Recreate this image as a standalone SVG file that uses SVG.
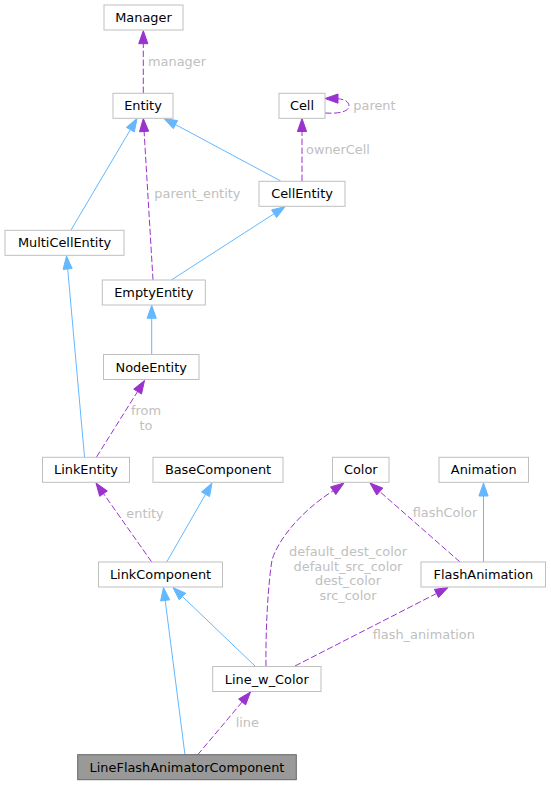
<svg xmlns="http://www.w3.org/2000/svg" width="551" height="785" viewBox="0 0 551 785">
<style>
.n rect{fill:#ffffff;stroke:#bfbfbf;stroke-width:1}
.n text{font-family:"DejaVu Sans",sans-serif;font-size:12.9px;fill:#000000;text-anchor:middle}
#LineFlashAnimatorComponent rect{fill:#999999;stroke:#666666}
.inh{stroke:#63b8ff;fill:none;stroke-width:1}
.inhA{fill:#63b8ff;stroke:#63b8ff}
.use{stroke:#9a32cd;fill:none;stroke-width:1;stroke-dasharray:6.4,2.6}
.useA{fill:#9a32cd;stroke:#9a32cd}
.lbl{font-family:"DejaVu Sans",sans-serif;font-size:12.9px;fill:#c0c0c0}
.mid{text-anchor:middle}
</style>
<rect width="551" height="785" fill="#ffffff"/>
<g id="connectors">
<path class="use" d="M143.3,93 L143.3,43.7"/>
<polygon class="useA" points="143.3,30.7 138.7,43.7 147.9,43.7"/>
<text class="lbl" x="148" y="65.5">manager</text>
<path class="inh" d="M71,230 L130.4,129.7"/>
<polygon class="inhA" points="137,118.5 134.3,132 126.4,127.3"/>
<path class="use" d="M153,280 L144.1,131.5"/>
<polygon class="useA" points="143.3,118.5 148.7,131.2 139.5,131.8"/>
<text class="lbl" x="154.3" y="197.5">parent_entity</text>
<path class="inh" d="M280.7,181 L175.5,124.6"/>
<polygon class="inhA" points="164,118.5 177.6,120.6 173.3,128.7"/>
<path class="use" d="M302,181 L302,131.5"/>
<polygon class="useA" points="302,118.5 297.4,131.5 306.6,131.5"/>
<text class="lbl" x="306" y="153.5">ownerCell</text>
<path class="use" d="M325,113 C337,114 349,112 349,106 C349,101 343,99 338,98.8"/>
<polygon class="useA" points="325,98.5 338,94 338,103.2"/>
<text class="lbl" x="353.3" y="109.5">parent</text>
<path class="inh" d="M171.3,280 L274.1,213.7"/>
<polygon class="inhA" points="285,206.7 276.6,217.6 271.6,209.9"/>
<path class="inh" d="M151.7,354 L151.7,318.3"/>
<polygon class="inhA" points="151.7,305.3 147.1,318.3 156.3,318.3"/>
<path class="inh" d="M84.5,457 L67.7,269"/>
<polygon class="inhA" points="66.5,256 72.2,268.5 63.1,269.4"/>
<path class="use" d="M96.5,457 L137.6,391.5"/>
<polygon class="useA" points="144.5,380.5 141.5,394 133.7,389.1"/>
<text class="lbl mid" x="146" y="414.8">from</text>
<text class="lbl mid" x="146" y="429.5">to</text>
<path class="use" d="M151.7,562 L103.5,493.6"/>
<polygon class="useA" points="96,483 107.3,491 99.7,496.3"/>
<text class="lbl" x="126.3" y="517.8">entity</text>
<path class="inh" d="M166.7,562 L205.5,494.3"/>
<polygon class="inhA" points="212,483 209.5,496.6 201.5,492"/>
<path class="use" d="M266,666 C265.5,630 268,585 272,560 C278,540 300,512 333.2,490.7"/>
<polygon class="useA" points="344,483 335.8,494.6 330.6,486.9"/>
<text class="lbl mid" x="348" y="556.2">default_dest_color</text>
<text class="lbl mid" x="348" y="570.8">default_src_color</text>
<text class="lbl mid" x="348" y="585.4">dest_color</text>
<text class="lbl mid" x="348" y="600">src_color</text>
<path class="use" d="M460,562 L379.8,491.6"/>
<polygon class="useA" points="370,483 382.8,488.1 376.7,495"/>
<text class="lbl" x="412.7" y="517.2">flashColor</text>
<path class="inh" d="M483.5,562 L483.5,496"/>
<polygon class="inhA" points="483.5,483 478.9,496 488.1,496"/>
<path class="use" d="M295,666 L436.5,593.5"/>
<polygon class="useA" points="448,587.5 438.6,597.6 434.4,589.4"/>
<text class="lbl" x="372.7" y="638.8">flash_animation</text>
<path class="inh" d="M255,666 L182.4,596.5"/>
<polygon class="inhA" points="173,587.5 185.6,593.2 179.2,599.8"/>
<path class="inh" d="M185,755 L165.2,600.4"/>
<polygon class="inhA" points="163.5,587.5 169.7,599.8 160.6,601"/>
<path class="use" d="M197.5,755 L242.1,702"/>
<polygon class="useA" points="250.5,692 245.6,704.9 238.6,699"/>
<text class="lbl" x="235.7" y="726.8">line</text>
</g>
<g id="Manager" class="n"><rect x="104" y="5" width="79" height="25"/><text x="143.5" y="22">Manager</text></g>
<g id="Entity" class="n"><rect x="113" y="93.3" width="60" height="25"/><text x="143" y="110.3">Entity</text></g>
<g id="Cell" class="n"><rect x="279" y="93.3" width="46" height="25"/><text x="302" y="110.3">Cell</text></g>
<g id="CellEntity" class="n"><rect x="259" y="181.3" width="86" height="25"/><text x="302" y="198.3">CellEntity</text></g>
<g id="MultiCellEntity" class="n"><rect x="5" y="230.3" width="119" height="25"/><text x="64.5" y="247.3">MultiCellEntity</text></g>
<g id="EmptyEntity" class="n"><rect x="102.3" y="280" width="103" height="25"/><text x="153.8" y="297">EmptyEntity</text></g>
<g id="NodeEntity" class="n"><rect x="103.5" y="354.5" width="95.5" height="25"/><text x="151.2" y="371.5">NodeEntity</text></g>
<g id="LinkEntity" class="n"><rect x="42.5" y="457.3" width="87" height="25"/><text x="86" y="474.3">LinkEntity</text></g>
<g id="BaseComponent" class="n"><rect x="153" y="457.3" width="130" height="25"/><text x="218" y="474.3">BaseComponent</text></g>
<g id="Color" class="n"><rect x="332.5" y="457.3" width="56.5" height="25"/><text x="360.8" y="474.3">Color</text></g>
<g id="Animation" class="n"><rect x="439" y="457.3" width="89.5" height="25"/><text x="483.7" y="474.3">Animation</text></g>
<g id="LinkComponent" class="n"><rect x="98.5" y="562" width="124" height="25"/><text x="160.5" y="579">LinkComponent</text></g>
<g id="FlashAnimation" class="n"><rect x="421" y="562" width="124.5" height="25"/><text x="483.3" y="579">FlashAnimation</text></g>
<g id="Line_w_Color" class="n"><rect x="212.7" y="666.5" width="108.3" height="25"/><text x="266.8" y="683.5">Line_w_Color</text></g>
<g id="LineFlashAnimatorComponent" class="n"><rect x="77.7" y="754.7" width="218.6" height="25"/><text x="187" y="771.7">LineFlashAnimatorComponent</text></g>
</svg>
